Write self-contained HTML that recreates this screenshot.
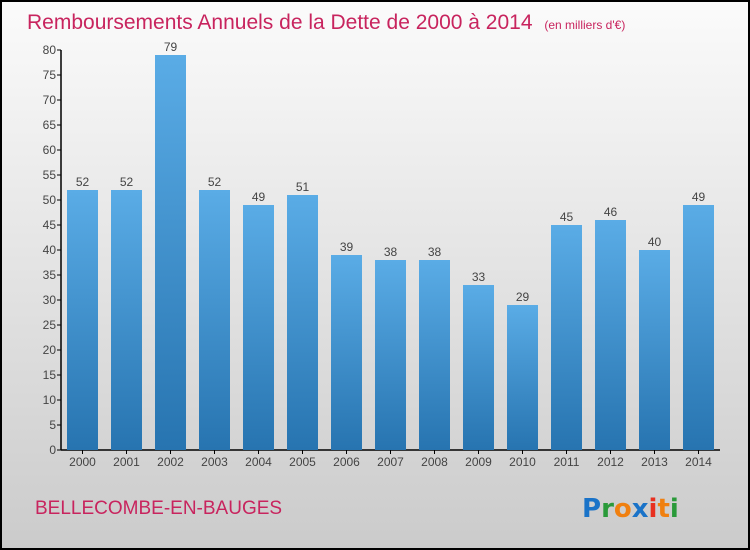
<!DOCTYPE html>
<html><head><meta charset="utf-8"><style>
body{margin:0}
#c{width:750px;height:550px;position:relative;overflow:hidden}
</style></head><body>
<div id="c">
<svg width="750" height="550" xmlns="http://www.w3.org/2000/svg" font-family="Liberation Sans, sans-serif">
<defs>
<linearGradient id="bg" x1="0" y1="0" x2="0" y2="1"><stop offset="0" stop-color="#fbfbfb"/><stop offset="1" stop-color="#cbcbcb"/></linearGradient>
<linearGradient id="bar" x1="0" y1="0" x2="0" y2="1"><stop offset="0" stop-color="#5aace6"/><stop offset="1" stop-color="#2774b0"/></linearGradient>
</defs>
<rect x="1" y="1" width="748" height="548" fill="url(#bg)" stroke="#000" stroke-width="2"/>
<text x="27" y="29" font-size="21" fill="#c8245e">Remboursements Annuels de la Dette de 2000 à 2014 <tspan font-size="12" dx="6">(en milliers d'€)</tspan></text>
<g id="axes"></g>
<g id="bars"></g>
<text x="35" y="514" font-size="19" fill="#c8245e">BELLECOMBE-EN-BAUGES</text>
<g font-size="26" font-family="DejaVu Sans, sans-serif" font-weight="bold">
<text x="582" y="517"><tspan fill="#1a73c8">P</tspan><tspan fill="#2a9a3a">r</tspan><tspan fill="#f08010">o</tspan><tspan fill="#1a73c8">x</tspan><tspan fill="#e83020">i</tspan><tspan fill="#f08010">t</tspan><tspan fill="#2a9a3a">i</tspan></text>
</g>
</svg>
</div>
<script>
const years=["2000","2001","2002","2003","2004","2005","2006","2007","2008","2009","2010","2011","2012","2013","2014"];
const values=[52,52,79,52,49,51,39,38,38,33,29,45,46,40,49];
const yTicks=[0,5,10,15,20,25,30,35,40,45,50,55,60,65,70,75,80];
const NS="http://www.w3.org/2000/svg";
const y0=450,yMax=80,ph=400,x0=61,step=44,bw=31;
const y=v=>y0-v/yMax*ph;
const xc=i=>82.5+i*step;
function mk(t,a,p){const e=document.createElementNS(NS,t);for(const k in a)e.setAttribute(k,a[k]);p.appendChild(e);return e;}
const ax=document.getElementById('axes'),bg=document.getElementById('bars');
const yl=mk('line',{x1:x0,y1:y(80),x2:x0,y2:y0,stroke:'#000','stroke-width':1.5},ax);


const xl=mk('line',{x1:x0,y1:y0,x2:720,y2:y0,stroke:'#000','stroke-width':1.5},ax);


yTicks.forEach(t=>{
 mk('line',{x1:x0-4,y1:y(t),x2:x0,y2:y(t),stroke:'#000'},ax);
 const tx=mk('text',{x:x0-5,y:y(t)+4,'font-size':12,fill:'#444','text-anchor':'end'},ax);
 tx.textContent=t;
 
 
});
years.forEach((yr,i)=>{
 const v=values[i];
 const r=mk('rect',{x:xc(i)-bw/2,y:y(v),width:bw,height:y0-y(v),fill:'url(#bar)'},bg);
 
 
 const l=mk('text',{x:xc(i),y:y(v)-4,'font-size':12,fill:'#444','text-anchor':'middle'},bg);
 l.textContent=v;
 
 
 mk('line',{x1:xc(i),y1:y0,x2:xc(i),y2:y0+4,stroke:'#000'},ax);
 const xt=mk('text',{x:xc(i),y:y0+16,'font-size':12,fill:'#444','text-anchor':'middle'},ax);
 xt.textContent=yr;
 
 
});
</script>
</body></html>
